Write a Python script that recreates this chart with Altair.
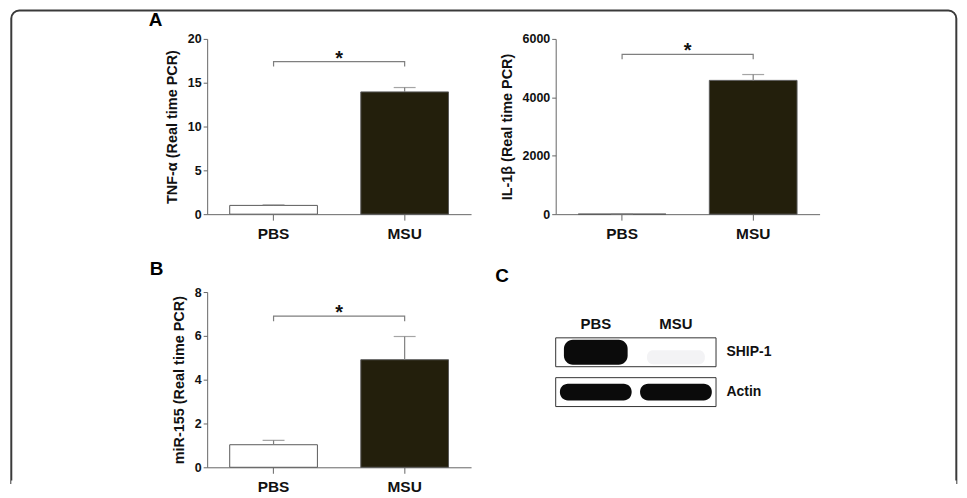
import altair as alt
import pandas as pd

# ---------------- data ----------------
groups = ["PBS", "MSU"]

tnf_mean = [1.0, 13.95]
tnf_upper = [1.05, 14.45]
tnf_bracket = [17.4, 16.85]      # bracket line, end of its small ticks
tnf_ticks = [0, 5, 10, 15, 20]

il1b_mean = [1.0, 4580]
il1b_upper = [1.0, 4780]
il1b_bracket = [5470, 5300]
il1b_ticks = [0, 2000, 4000, 6000]

mir_mean = [1.03, 4.91]
mir_upper = [1.23, 5.97]
mir_bracket = [6.9, 6.67]
mir_ticks = [0, 2, 4, 6, 8]

lanes = ["PBS", "MSU"]
blot_rows = ["SHIP-1", "Actin"]
ship1_density = [1.0, 0.05]
actin_density = [1.0, 1.0]

FONT = "Liberation Sans"
W, H = 265, 176


def letter_title(letter, dx, offset):
    return alt.TitleParams(letter, anchor="start", frame="group", dx=dx, fontSize=19,
                           fontWeight="bold", font=FONT, color="#000", offset=offset)


def bar_panel(means, uppers, bracket, ticks, ytitle, letter=None, frame=False):
    ymax = ticks[-1]
    bars_df = pd.DataFrame({"group": groups, "value": means, "upper": uppers})
    br_df = pd.DataFrame({
        "group": [groups[0], groups[0], groups[1], groups[1]],
        "value": [bracket[1], bracket[0], bracket[0], bracket[1]],
        "order": [0, 1, 2, 3],
    })
    star_df = pd.DataFrame({"group": [groups[0]], "value": [bracket[0]]})

    xenc = alt.X("group:N", sort=groups,
                 scale=alt.Scale(domain=groups, paddingInner=0.331, paddingOuter=0.172),
                 axis=alt.Axis(title=None, labelAngle=0, labelFontSize=15.5, labelPadding=6,
                               tickSize=6, bandPosition=0.5))

    def yenc(field):
        return alt.Y(f"{field}:Q",
                     scale=alt.Scale(domain=[0, ymax], nice=False, zero=True),
                     axis=alt.Axis(title=ytitle, values=ticks, format="d", tickSize=4,
                                   labelPadding=2, labelFontSize=12.5, titleFontSize=14.5,
                                   titlePadding=8))

    bars = alt.Chart(bars_df).mark_bar(stroke="#5a5a5a", strokeWidth=1).encode(
        x=xenc, y=yenc("value"),
        fill=alt.Fill("group:N", scale=alt.Scale(domain=groups, range=["#ffffff", "#231f0c"]),
                      legend=None),
    )
    err = alt.Chart(bars_df).mark_rule(color="#7f7f7f", strokeWidth=1.2).encode(
        x=xenc, y=yenc("value"), y2="upper:Q")
    cap = alt.Chart(bars_df).mark_tick(orient="horizontal", size=22, thickness=1.2,
                                       color="#7f7f7f").encode(x=xenc, y=yenc("upper"))
    brk = alt.Chart(br_df).mark_line(color="#7f7f7f", strokeWidth=1.2).encode(
        x=xenc, y=yenc("value"), order="order:Q")
    star = alt.Chart(star_df).mark_text(text="*", fontSize=20, fontWeight="bold", font=FONT,
                                        color="#111", dx=65.8, dy=3,
                                        baseline="alphabetic").encode(x=xenc, y=yenc("value"))
    layers = [bars, err, cap, brk, star]
    if frame:
        # decorative rounded frame round the whole figure (open at the bottom)
        fdf = pd.DataFrame({"k": [0]})
        rect = alt.Chart(fdf).mark_rect(
            fillOpacity=0, stroke="#3a3a3a", strokeWidth=2,
            cornerRadiusTopLeft=8, cornerRadiusTopRight=8, clip=False,
        ).encode(x=alt.value(-546.7), x2=alt.value(402.3), y=alt.value(-28.5), y2=alt.value(446))
        cover = alt.Chart(fdf).mark_rule(color="white", strokeWidth=5, clip=False).encode(
            x=alt.value(-546.7), x2=alt.value(402.3), y=alt.value(446))
        layers = [rect, cover] + layers
    ch = alt.layer(*layers).properties(width=W, height=H)
    if letter:
        ch = ch.properties(title=letter)
    return ch


a1 = bar_panel(tnf_mean, tnf_upper, tnf_bracket, tnf_ticks,
               "TNF-\u03b1 (Real time PCR)", letter=letter_title("A", -58.7, 3))
a2 = bar_panel(il1b_mean, il1b_upper, il1b_bracket, il1b_ticks,
               "IL-1\u03b2 (Real time PCR)", frame=True)
b = bar_panel(mir_mean, mir_upper, mir_bracket, mir_ticks,
              "miR-155 (Real time PCR)", letter=letter_title("B", -57.7, 7))

# ---------------- panel C : western blot ----------------
blot_df = pd.DataFrame({
    "lane": lanes * 2,
    "row": [blot_rows[0]] * 2 + [blot_rows[1]] * 2,
    "density": ship1_density + actin_density,
})
box_df = pd.DataFrame({"row": blot_rows})

cx = alt.X("lane:N", sort=lanes,
           scale=alt.Scale(domain=lanes, paddingInner=0, paddingOuter=0),
           axis=alt.Axis(orient="top", title=None, domain=False, ticks=False, labelPadding=0,
                         offset=-31.3, labelBaseline="middle", labelAngle=0, labelFontSize=15))
cy = alt.Y("row:N", sort=blot_rows,
           scale=alt.Scale(domain=blot_rows, range=[46, 115], paddingInner=0.275, paddingOuter=0),
           axis=alt.Axis(orient="right", title=None, domain=False, ticks=False, labelPadding=10,
                         labelFontSize=14))

boxes = alt.Chart(box_df).mark_rect(fill="white", stroke="#333333", strokeWidth=1).encode(y=cy)
ship_pbs = alt.Chart(blot_df).transform_filter(
    (alt.datum.row == blot_rows[0]) & (alt.datum.lane == lanes[0])
).mark_rect(width=64, height=25, cornerRadius=9, color="#0b0b0b").encode(
    x=cx, y=cy, opacity=alt.Opacity("density:Q", scale=None, legend=None))
ship_msu = alt.Chart(blot_df).transform_filter(
    (alt.datum.row == blot_rows[0]) & (alt.datum.lane == lanes[1])
).mark_rect(width=58, height=14, cornerRadius=6, color="#1a1a40", yOffset=5).encode(
    x=cx, y=cy, opacity=alt.Opacity("density:Q", scale=None, legend=None))
actin = alt.Chart(blot_df).transform_filter(
    alt.datum.row == blot_rows[1]
).mark_rect(width=72, height=17, cornerRadius=8, color="#0b0b0b").encode(
    x=cx, y=cy, opacity=alt.Opacity("density:Q", scale=None, legend=None))

c = alt.layer(boxes, ship_pbs, ship_msu, actin).properties(
    width=161, height=H, title=letter_title("C", -60.7, 6),
)

chart = alt.concat(
    a1, a2, b, c, columns=2, spacing={"row": 78.2, "column": 85}, bounds="flush"
).properties(padding=0).configure_view(stroke=None).configure_axis(
    labelFont=FONT, titleFont=FONT, labelFontWeight="bold", titleFontWeight="bold",
    domainColor="#666666", tickColor="#666666", labelColor="#111111", titleColor="#111111",
    grid=False,
)

chart.save("out.html", embed_options={"renderer": "svg", "actions": False})
